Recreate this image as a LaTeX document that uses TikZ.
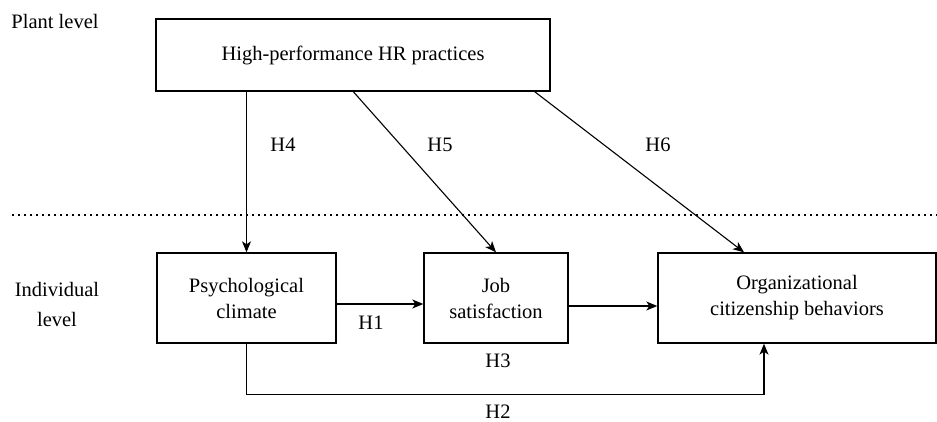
\documentclass[tikz,border=0pt]{standalone}
\usepackage{fontspec}
\setmainfont{Liberation Serif}
\newfontfamily\tms{Liberation Serif}
\usetikzlibrary{arrows.meta}
\begin{document}
\begin{tikzpicture}[x=1pt,y=-1pt,
  box/.style={draw,line width=1.4pt,inner sep=0pt,align=center,
    font=\tms\fontsize{20.5}{26}\selectfont},
  lbl/.style={inner sep=0pt,font=\tms\fontsize{20.5}{26}\selectfont},
  arr/.style={line width=1.1pt,-{Stealth[length=11pt,width=9pt,inset=3pt]}}]
\useasboundingbox (0,0) rectangle (937,422);
\fill[white] (0,0) rectangle (937,422);
\node[box,minimum width=394pt,minimum height=72pt] (hr) at (353,55) {High-performance HR practices};
\node[box,minimum width=179pt,minimum height=90pt] (pc) at (246.5,298) {Psychological\\climate};
\node[box,minimum width=144pt,minimum height=90pt] (js) at (496,298) {Job\\satisfaction};
\node[box,minimum width=278pt,minimum height=90pt] (ocb) at (797,298) {Organizational\\citizenship behaviors};
\node[lbl] (plant) at (55,21) {Plant level};
\node[lbl,align=center,font=\tms\fontsize{20.5}{30}\selectfont] (indiv) at (57,304) {Individual\\level};
\coordinate (dl) at (12,215);
\coordinate (dr) at (937,215);
\draw[line width=2pt,dash pattern=on 2pt off 4pt] (dl) -- (dr);
% connectors
\coordinate (pcE) at ([yshift=-6pt]pc.east);
\coordinate (jsE) at ([yshift=-8pt]js.east);
\draw[arr] (hr.south -| pc.north) -- (pc.north);
\draw[arr] ([xshift=198pt]hr.south west) -- (js.north);
\draw[arr] ([xshift=-16pt]hr.south east) -- ([xshift=-53pt]ocb.north);
\draw[arr] (pcE) -- (js.west |- pcE);
\draw[arr] (jsE) -- (ocb.west |- jsE);
\coordinate (h2a) at ([yshift=-51pt]pc.south);
\draw[arr] (pc.south) -- (h2a) -| ([xshift=-33pt]ocb.south);
\node[lbl] (h4) at (283,145) {H4};
\node[lbl] (h5) at (440,145) {H5};
\node[lbl] (h6) at (658,145) {H6};
\node[lbl] (h1) at (371,323) {H1};
\node[lbl] (h3) at (498,361) {H3};
\node[lbl] (h2) at (498,412) {H2};
\end{tikzpicture}
\end{document}
